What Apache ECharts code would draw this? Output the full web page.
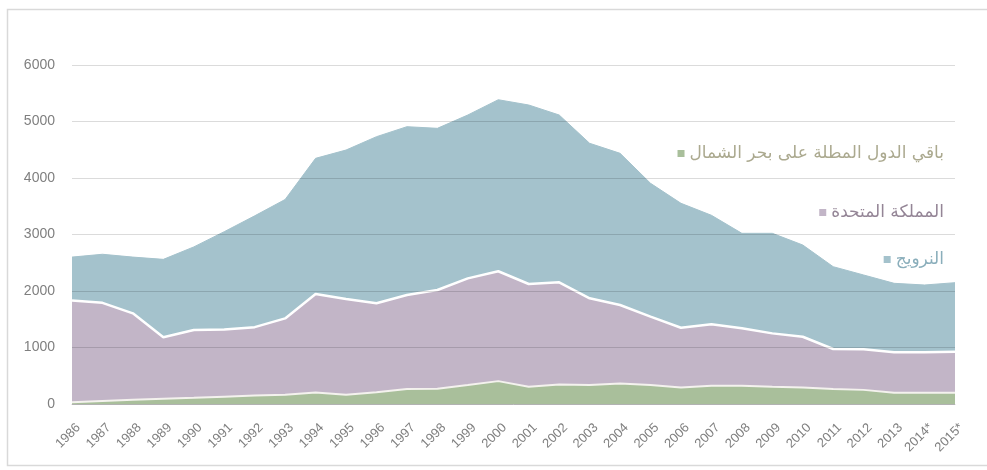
<!DOCTYPE html>
<html>
<head>
<meta charset="utf-8">
<script src="https://cdn.jsdelivr.net/npm/echarts@6/dist/echarts.min.js"></script>
<style>
  html, body { margin: 0; padding: 0; background: #ffffff; }
  #chart { width: 987px; height: 470px; }
</style>
</head>
<body>
<div id="chart"></div>
<script>
// North Sea production by producer, 1986–2015 (stacked)
const years = ['1986','1987','1988','1989','1990','1991','1992','1993','1994','1995',
  '1996','1997','1998','1999','2000','2001','2002','2003','2004','2005',
  '2006','2007','2008','2009','2010','2011','2012','2013','2014*','2015*'];

const otherCountries = [30,55,75,95,110,130,150,165,205,165,
  210,265,270,335,405,305,345,335,365,335,
  290,325,325,305,290,265,250,200,200,200];

const unitedKingdom = [1800,1735,1530,1085,1200,1190,1210,1350,1742,1695,
  1572,1664,1748,1889,1945,1819,1809,1535,1387,1211,
  1060,1085,1015,945,900,708,718,715,715,725];

const norway = [770,860,995,1380,1470,1730,1970,2105,2401,2635,
  2949,2979,2861,2891,3035,3168,2961,2744,2685,2360,
  2202,1930,1681,1771,1624,1457,1315,1221,1191,1222];

const yTicks = [0, 1000, 2000, 3000, 4000, 5000, 6000];

const names = {
  other: 'باقي الدول المطلة على بحر الشمال',
  uk: 'المملكة المتحدة',
  no: 'النرويج'
};

const colors = { other: '#a9bf9b', uk: '#c2b5c7', no: '#a4c2cc' };
const textColors = { other: '#aba98f', uk: '#948596', no: '#8aaebb' };

const chart = echarts.init(document.getElementById('chart'));

function legendFor(key, top) {
  return {
    data: [names[key]],
    right: 38,
    top: top,
    itemWidth: 7,
    itemHeight: 7,
    icon: 'rect',
    selectedMode: false,
    textStyle: { color: textColors[key], fontSize: 17, fontFamily: 'DejaVu Sans' }
  };
}

chart.setOption({
  backgroundColor: '#ffffff',
  animation: false,
  graphic: [{
    type: 'rect',
    shape: { x: 7.5, y: 9.5, width: 990, height: 456 },
    style: { fill: null, stroke: '#d9d9d9', lineWidth: 1.5 },
    silent: true,
    z: -1
  }],
  legend: [
    legendFor('other', 140),
    legendFor('uk', 199),
    legendFor('no', 246)
  ],
  grid: { left: 72, right: 32, top: 65, bottom: 66 },
  xAxis: {
    type: 'category',
    data: years,
    boundaryGap: false,
    axisLine: { lineStyle: { color: '#d0d0d0' } },
    axisTick: { show: false },
    axisLabel: {
      rotate: 45,
      color: '#7f7f7f',
      fontSize: 13,
      fontFamily: 'Liberation Sans',
      margin: 28,
      padding: [0, -9, 0, 0],
      interval: 0
    }
  },
  yAxis: {
    type: 'value',
    min: yTicks[0],
    max: yTicks[yTicks.length - 1],
    interval: 1000,
    z: 6,
    axisLine: { show: false },
    axisTick: { show: false },
    axisLabel: {
      color: '#7f7f7f', fontSize: 14, fontFamily: 'Liberation Sans', margin: 17,
      formatter: v => String(v)
    },
    splitLine: { lineStyle: { color: 'rgba(0,0,0,0.14)', width: 1 } }
  },
  series: [
    {
      name: names.other, type: 'line', stack: 'total', data: otherCountries,
      symbol: 'none', z: 4,
      itemStyle: { color: colors.other },
      lineStyle: { color: '#f4f2ee', width: 2 },
      areaStyle: { color: colors.other, opacity: 1 }
    },
    {
      name: names.uk, type: 'line', stack: 'total', data: unitedKingdom,
      symbol: 'none', z: 3,
      itemStyle: { color: colors.uk },
      lineStyle: { color: '#ffffff', width: 2.5 },
      areaStyle: { color: colors.uk, opacity: 1 }
    },
    {
      name: names.no, type: 'line', stack: 'total', data: norway,
      symbol: 'none', z: 2,
      itemStyle: { color: colors.no },
      lineStyle: { color: colors.no, width: 1 },
      areaStyle: { color: colors.no, opacity: 1 }
    }
  ]
});
</script>
</body>
</html>
